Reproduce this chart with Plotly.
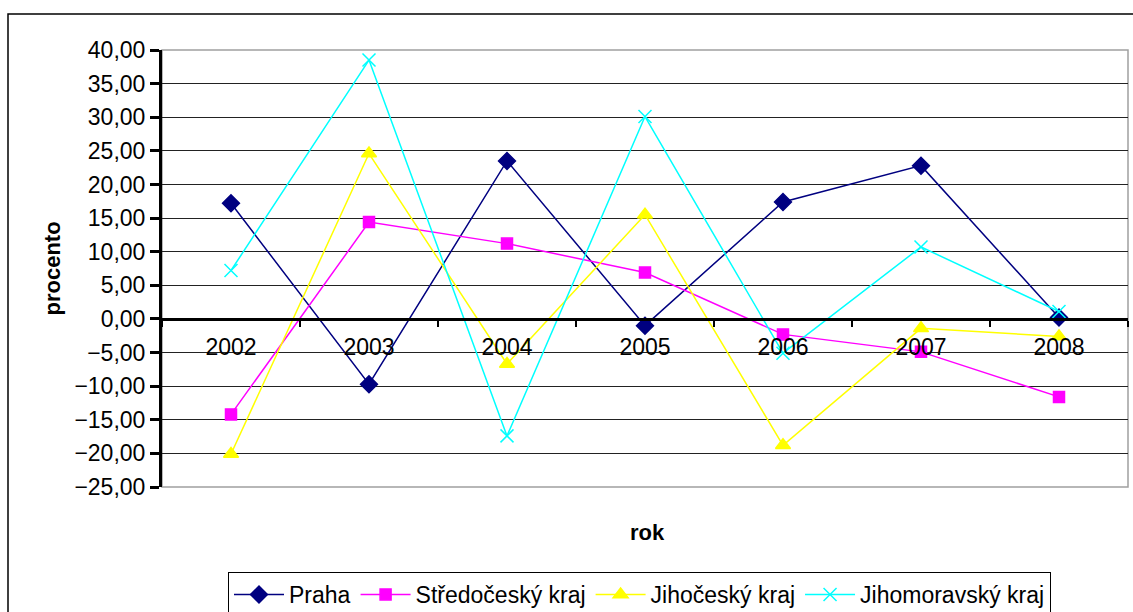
import plotly.graph_objects as go

# Meziroční změna v procentech podle krajů
roky = ["2002", "2003", "2004", "2005", "2006", "2007", "2008"]
praha = [17.2, -9.7, 23.5, -1.0, 17.4, 22.8, 0.2]
stredocesky = [-14.2, 14.4, 11.2, 6.9, -2.3, -4.9, -11.6]
jihocesky = [-20.1, 24.6, -6.7, 15.5, -18.8, -1.4, -2.6]
jihomoravsky = [7.2, 38.5, -17.4, 30.1, -5.1, 10.7, 1.1]

y_ticks = [40, 35, 30, 25, 20, 15, 10, 5, 0, -5, -10, -15, -20, -25]
y_min, y_max = -25, 40

font = "Liberation Sans, Arial, sans-serif"

series = [
    ("Praha", praha, "#000080", "diamond", 13, 1.5),
    ("Středočeský kraj", stredocesky, "#FF00FF", "square", 11, 1.5),
    ("Jihočeský kraj", jihocesky, "#FFFF00", "triangle-up", 13, 1.5),
    ("Jihomoravský kraj", jihomoravsky, "#00FFFF", "x-thin-open", 13, 1.5),
]

fig = go.Figure()
for name, vals, color, sym, size, lw in series:
    fig.add_trace(go.Scatter(
        x=roky, y=vals, name=name, mode="lines+markers",
        line=dict(color=color, width=lw),
        marker=dict(symbol=sym, size=size, color=color,
                    line=dict(color=color, width=1.5)),
        cliponaxis=False,
    ))

# position of the zero line within the plot area (fraction of height)
zero_pos = (0 - y_min) / (y_max - y_min)

plot_top, plot_bottom = 50, 487
plot_h = plot_bottom - plot_top
plot_left, plot_right = 162, 1128
plot_w = plot_right - plot_left

fig.update_layout(
    width=1133, height=612,
    margin=dict(l=plot_left, r=1133 - plot_right, t=plot_top,
                b=612 - plot_bottom, autoexpand=False),
    paper_bgcolor="white", plot_bgcolor="white",
    separators=", ",
    font=dict(family=font, size=23, color="black"),
    showlegend=True,
    legend=dict(
        orientation="h", x=(228 - plot_left) / plot_w, xanchor="left",
        y=-(572 - plot_bottom) / plot_h, yanchor="top",
        bordercolor="black", borderwidth=1, bgcolor="white",
        font=dict(family=font, size=23, color="black"),
        itemwidth=50, tracegroupgap=0,
    ),
    xaxis=dict(
        type="category", range=[-0.5, 6.5],
        anchor="free", position=zero_pos,
        showline=True, linecolor="black", linewidth=3,
        ticks="outside", tickson="boundaries", ticklen=6, tickwidth=2,
        tickcolor="black", showgrid=False, zeroline=False,
        ticklabelstandoff=6,
        tickfont=dict(family=font, size=23, color="black"),
    ),
    yaxis=dict(
        range=[y_min, y_max], tickvals=y_ticks, tickformat=".2f",
        showline=True, linecolor="black", linewidth=3,
        ticks="outside", ticklen=9, tickwidth=3, tickcolor="black",
        showgrid=True, gridcolor="#222222", gridwidth=1,
        zeroline=False,
        tickfont=dict(family=font, size=23, color="black"),
    ),
    shapes=[
        # outer chart frame
        dict(type="rect", xref="paper", yref="paper",
             x0=(8 - plot_left) / plot_w, x1=1.2,
             y0=-0.5, y1=(plot_bottom - 14) / plot_h,
             line=dict(color="black", width=1.5), layer="below"),
        # plot area border
        dict(type="rect", xref="paper", yref="paper",
             x0=0, x1=1, y0=0, y1=1,
             line=dict(color="#a0a0a0", width=1.5), layer="below"),
    ],
    annotations=[
        dict(text="<b>procento</b>", xref="paper", yref="paper",
             x=(52 - plot_left) / plot_w, y=0.5,
             xanchor="center", yanchor="middle",
             textangle=-90, showarrow=False,
             font=dict(family=font, size=22, color="black")),
        dict(text="<b>rok</b>", xref="paper", yref="paper",
             x=(647 - plot_left) / plot_w, y=-(532 - plot_bottom) / plot_h,
             xanchor="center", yanchor="middle", showarrow=False,
             font=dict(family=font, size=22, color="black")),
    ],
)

fig.write_html("out.html")
